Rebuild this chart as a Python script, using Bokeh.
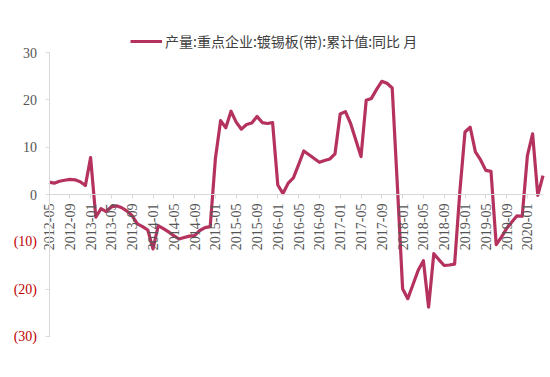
import math
from bokeh.plotting import figure
from bokeh.models import LinearAxis, FixedTicker, Legend, LegendItem, Range1d
from bokeh.embed import file_html
from bokeh.resources import INLINE

# ---- data ----
months = [f"{y}-{m:02d}" for y in range(2012, 2021) for m in range(1, 13)]
months = months[months.index("2012-05"):months.index("2020-04") + 1]

values = [
    # 2012-05 .. 2012-12
    2.6, 2.4, 2.8, 3.0, 3.2, 3.1, 2.7, 1.9,
    # 2013
    7.8, -4.8, -3.0, -3.6, -2.6, -2.4, -2.8, -3.5, -4.5, -6.2, -6.8, -7.5,
    # 2014
    -11.5, -6.6, -7.2, -7.9, -8.7, -9.4, -9.1, -8.8, -8.7, -7.6, -7.0, -6.8,
    # 2015
    7.6, 15.6, 14.1, 17.6, 15.3, 13.8, 14.8, 15.1, 16.5, 15.2, 15.0, 15.2,
    # 2016
    2.0, 0.2, 2.4, 3.5, 6.3, 9.2, 8.4, 7.6, 6.8, 7.2, 7.5, 8.6,
    # 2017
    17.0, 17.5, 15.0, 11.5, 8.0, 19.9, 20.3, 22.2, 23.9, 23.5, 22.5, 1.8,
    # 2018
    -19.9, -22.0, -19.0, -16.0, -14.0, -23.8, -12.5, -13.8, -15.0, -14.9, -14.7, 0.5,
    # 2019
    13.2, 14.2, 9.0, 7.3, 5.1, 4.9, -10.6, -9.0, -7.2, -5.8, -4.5, -4.6,
    # 2020-01 .. 2020-04
    8.2, 12.8, -0.2, 4.0,
]

label_step = 4
y_min, y_max = -30, 30
y_pos_ticks = [0, 10, 20, 30]
y_neg_ticks = [-30, -20, -10]
y_neg_labels = {-10: "(10)", -20: "(20)", -30: "(30)"}
series_name = "产量:重点企业:镀锡板(带):累计值:同比 月"

# ---- styling / layout ----
LINE_COLOR = "#b5325f"
AXIS_COLOR = "#d9d9d9"
TEXT_COLOR = "#555555"
NEG_COLOR = "#c00000"
SERIF = "Liberation Serif"
W, H = 545, 370
PLOT_LEFT_PX, PLOT_RIGHT_PX = 48.5, 542.5   # pixel of first / last month
PLOT_TOP_PX, PLOT_BOTTOM_PX = 52.0, 336.0   # pixel of y_max / y_min

idx = list(range(len(months)))
n = len(months) - 1
xs = (PLOT_RIGHT_PX - PLOT_LEFT_PX) / n
ys = (PLOT_BOTTOM_PX - PLOT_TOP_PX) / (y_max - y_min)
x_range = Range1d(-PLOT_LEFT_PX / xs, n + (W - PLOT_RIGHT_PX) / xs)
y_range = Range1d(y_min - (H - PLOT_BOTTOM_PX) / ys, y_max + PLOT_TOP_PX / ys)

p = figure(width=W, height=H, output_backend="svg", toolbar_location=None,
           x_range=x_range, y_range=y_range,
           x_axis_location=None, y_axis_location=None,
           min_border=0, min_border_left=0, min_border_right=0,
           min_border_top=0, min_border_bottom=0)
p.outline_line_color = None
p.grid.visible = False
p.background_fill_color = "white"
p.border_fill_color = "white"

r = p.line(idx, values, line_color=LINE_COLOR, line_width=3.2, line_join="round")

# x axis crossing at zero
tick_idx = idx[::label_step]
xaxis = LinearAxis(fixed_location=0, bounds=(0, n),
                   ticker=FixedTicker(ticks=tick_idx, minor_ticks=[]),
                   major_label_overrides={i: months[i] for i in tick_idx})
xaxis.axis_line_color = AXIS_COLOR
xaxis.major_tick_line_color = AXIS_COLOR
xaxis.major_tick_out = 4
xaxis.major_tick_in = 0
xaxis.minor_tick_line_color = None
xaxis.major_label_orientation = math.pi / 2
xaxis.major_label_standoff = 5
xaxis.major_label_text_font = SERIF
xaxis.major_label_text_font_size = "14px"
xaxis.major_label_text_color = TEXT_COLOR
p.add_layout(xaxis, "below")

# y axis: positive labels grey, negative labels red in parentheses
ya1 = LinearAxis(fixed_location=0, bounds=(y_min, y_max),
                 ticker=FixedTicker(ticks=y_pos_ticks, minor_ticks=[]))
ya2 = LinearAxis(fixed_location=0, bounds=(y_min, y_max),
                 ticker=FixedTicker(ticks=y_neg_ticks, minor_ticks=[]),
                 major_label_overrides=y_neg_labels)
for ax, col in ((ya1, TEXT_COLOR), (ya2, NEG_COLOR)):
    ax.axis_line_color = AXIS_COLOR
    ax.major_tick_line_color = AXIS_COLOR
    ax.major_tick_out = 4
    ax.major_tick_in = 0
    ax.minor_tick_line_color = None
    ax.major_label_standoff = 8
    ax.major_label_text_font = SERIF
    ax.major_label_text_font_size = "14px"
    ax.major_label_text_color = col
    p.add_layout(ax, "left")

legend = Legend(items=[LegendItem(label=series_name, renderers=[r])],
                location=(130, H - 51), orientation="horizontal",
                glyph_width=32, glyph_height=16, label_height=16,
                label_standoff=3, padding=0, margin=0,
                border_line_color=None, background_fill_alpha=0,
                label_text_font="Noto Sans CJK SC", label_text_font_size="14px",
                label_text_color="#404040")
p.add_layout(legend)

open("out.html", "w").write(file_html(p, INLINE))
